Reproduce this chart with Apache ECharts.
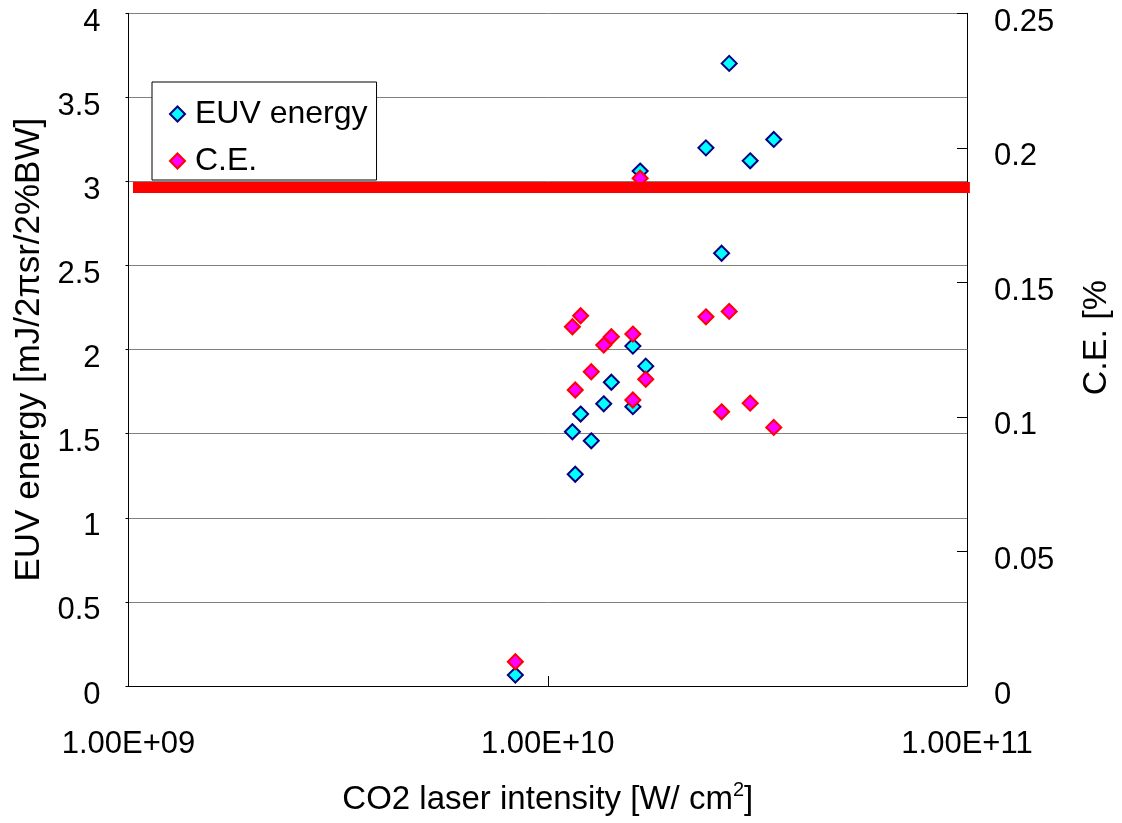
<!DOCTYPE html>
<html>
<head>
<meta charset="utf-8">
<script src="https://cdn.jsdelivr.net/npm/echarts@6/dist/echarts.min.js"></script>
<style>
html,body{margin:0;padding:0;background:#fff;overflow:hidden;}
#chart{width:1122px;height:823px;}
</style>
</head>
<body>
<div id="chart"></div>
<script>
// CO2 laser intensity [W/cm2]
const intensity = [8.37e9, 1.163e10, 1.145e10, 1.198e10, 1.27e10, 1.36e10, 1.418e10, 1.596e10, 1.596e10, 1.713e10, 1.661e10, 2.384e10, 2.598e10, 2.709e10, 3.04e10, 3.46e10];
// EUV energy [mJ/2πsr/2%BW]
const euvEnergy = [0.065, 1.259, 1.512, 1.617, 1.458, 1.678, 1.806, 1.661, 2.021, 1.902, 3.062, 3.200, 2.573, 3.702, 3.123, 3.250];
// C.E. [%]
const convEff = [0.0090, 0.1100, 0.1335, 0.1376, 0.1168, 0.1267, 0.1298, 0.1063, 0.1308, 0.1140, 0.1887, 0.1372, 0.1019, 0.1392, 0.1051, 0.0961];
// red reference line
const refLineX = [1.025e9, 1.016e11];
const refLineY = 2.964;
const xTickLabels = ['1.00E+09', '1.00E+10', '1.00E+11'];
const seriesNames = ['EUV energy', 'C.E.'];

const FONT = '"Liberation Sans", Arial, sans-serif';
const chart = echarts.init(document.getElementById('chart'), null, {renderer: 'canvas', width: 1122, height: 823});

const zip = (xs, ys) => xs.map((x, i) => [x, ys[i]]);

chart.setOption({
  animation: false,
  backgroundColor: '#fff',
  textStyle: {fontFamily: FONT, color: '#000'},
  grid: {left: 128.5, right: 147, top: 13.3, bottom: 137, containLabel: false},
  legend: {
    data: seriesNames,
    orient: 'vertical',
    left: 152, top: 82,
    padding: [16, 9, 3, 17],
    itemGap: 15,
    itemWidth: 15, itemHeight: 15,
    backgroundColor: '#fff',
    borderColor: '#000', borderWidth: 1, borderRadius: 0,
    textStyle: {fontFamily: FONT, fontSize: 32, color: '#000', lineHeight: 31, padding: [0, 0, 0, 5]}
  },
  xAxis: {
    type: 'log', logBase: 10, min: 1e9, max: 1e11,
    name: '{n|CO2 laser intensity [W/ cm}{s|2}{n|]}',
    nameLocation: 'middle', nameGap: 94,
    nameTextStyle: {
      rich: {
        n: {fontFamily: FONT, fontSize: 33, color: '#000', verticalAlign: 'bottom', lineHeight: 36},
        s: {fontFamily: FONT, fontSize: 20, color: '#000', verticalAlign: 'top', lineHeight: 36, padding: [0, 0, 15, 0]}
      }
    },
    axisLine: {show: true, lineStyle: {color: '#000', width: 1}},
    axisTick: {show: true, inside: true, length: 10, lineStyle: {color: '#000'}},
    minorTick: {show: false},
    splitLine: {show: false},
    axisLabel: {
      fontFamily: FONT, fontSize: 31, color: '#000', margin: 43,
      formatter: v => xTickLabels[Math.round(Math.log10(v)) - 9]
    }
  },
  yAxis: [
    {
      type: 'value', min: 0, max: 4, interval: 0.5, position: 'left',
      name: 'EUV energy [mJ/2πsr/2%BW]', nameLocation: 'middle', nameGap: 77, nameRotate: 90,
      nameTextStyle: {fontFamily: FONT, fontSize: 35, color: '#000'},
      axisLine: {show: true, lineStyle: {color: '#000', width: 1}},
      axisTick: {show: true, length: 3, lineStyle: {color: '#000'}},
      splitLine: {show: true, lineStyle: {color: '#808080', width: 1}},
      axisLabel: {fontFamily: FONT, fontSize: 31, color: '#000', margin: 28, verticalAlign: 'top', lineHeight: 18}
    },
    {
      type: 'value', min: 0, max: 0.25, interval: 0.05, position: 'right',
      name: '{t|C.E. [%}', nameLocation: 'middle', nameGap: 113, nameRotate: 90,
      nameTextStyle: {rich: {t: {fontFamily: FONT, fontSize: 34, color: '#000', padding: [0, 0, 0, 24]}}},
      axisLine: {show: true, lineStyle: {color: '#000', width: 1}},
      axisTick: {show: true, inside: true, length: 10, lineStyle: {color: '#000'}},
      splitLine: {show: false},
      axisLabel: {fontFamily: FONT, fontSize: 31, color: '#000', margin: 27, verticalAlign: 'top', lineHeight: 18}
    }
  ],
  series: [
    {
      name: seriesNames[0], type: 'scatter', yAxisIndex: 0,
      symbol: 'diamond', symbolSize: 15,
      itemStyle: {color: '#00FFFF', borderColor: '#000080', borderWidth: 2, opacity: 1},
      data: zip(intensity, euvEnergy), z: 3
    },
    {
      name: seriesNames[1], type: 'scatter', yAxisIndex: 1,
      symbol: 'diamond', symbolSize: 15,
      itemStyle: {color: '#FF00FF', borderColor: '#FF0000', borderWidth: 2, opacity: 1},
      data: zip(intensity, convEff), z: 4
    },
    {
      name: 'ref', type: 'line', yAxisIndex: 0,
      data: refLineX.map(x => [x, refLineY]),
      symbol: 'none', clip: false, silent: true,
      lineStyle: {color: '#FF0000', width: 11, cap: 'butt'},
      z: 5
    }
  ]
});
</script>
</body>
</html>
